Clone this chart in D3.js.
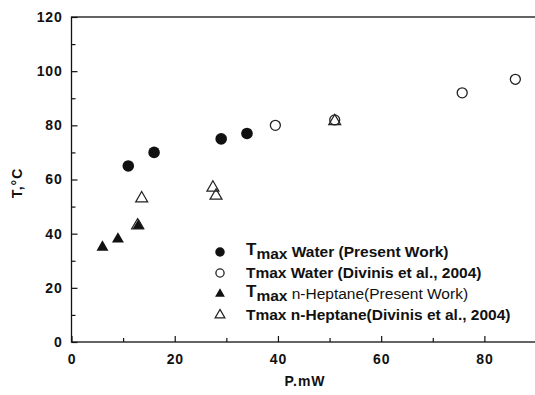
<!DOCTYPE html>
<html><head><meta charset="utf-8">
<script src="https://cdn.jsdelivr.net/npm/d3@7"></script>
<style>
html,body{margin:0;padding:0;background:#fff;}
text{font-family:"Liberation Sans",Arial,sans-serif;font-weight:bold;fill:#111;}
</style></head>
<body><svg id="c" width="535" height="395"></svg>
<script>
const waterPresent = [[11,65],[16,70],[29,75],[34,77]];
const waterDivinis = [[39.5,80],[51,82],[75.7,92],[86,97]];
const heptanePresent = [[6,35],[9,38],[13,43]];
const heptaneDivinis = [[13.6,53],[12.8,43],[27.4,57],[28,54],[51,81.5]];
const xTicks = [0,20,40,60,80];
const yTicks = [0,20,40,60,80,100,120];
const legendLabels = [
  {sub:true, rest:" Water (Present Work)", sym:"fc", w:"bold"},
  {sub:false, rest:" Water (Divinis et al., 2004)", sym:"oc", w:"bold"},
  {sub:true, rest:" n-Heptane(Present Work)", sym:"ft", w:"normal"},
  {sub:false, rest:" n-Heptane(Divinis et al., 2004)", sym:"ot", w:"bold"}
];

const svg = d3.select("#c");
const L=71.5, T=17, B=342, R=536;
const x = d3.scaleLinear().domain([0,90]).range([L,R]);
const y = d3.scaleLinear().domain([0,120]).range([B,T]);

svg.append("rect").attr("x",L).attr("y",T).attr("width",R-L).attr("height",B-T)
  .attr("fill","none").attr("stroke","#111").attr("stroke-width",1.3);

const xAx = svg.append("g").attr("transform",`translate(0,${B})`)
  .call(d3.axisBottom(x).tickValues(xTicks).tickSize(-6).tickPadding(12).tickFormat(d3.format("d")));
const xMinor = svg.append("g").attr("transform",`translate(0,${B})`)
  .call(d3.axisBottom(x).tickValues([10,30,50,70]).tickSize(-4).tickFormat(""));
const yAx = svg.append("g").attr("transform",`translate(${L},0)`)
  .call(d3.axisLeft(y).tickValues(yTicks).tickSize(-6).tickPadding(9).tickFormat(d3.format("d")));
const yMinor = svg.append("g").attr("transform",`translate(${L},0)`)
  .call(d3.axisLeft(y).tickValues([10,30,50,70,90,110]).tickSize(-4).tickFormat(""));
[xAx,xMinor,yAx,yMinor].forEach(g=>{
  g.select(".domain").remove();
  g.selectAll("line").attr("stroke","#111").attr("stroke-width",1.2);
  g.selectAll("text").style("font-size","14px").style("font-weight","bold")
   .style("font-family","Liberation Sans, Arial, sans-serif").attr("fill","#111")
   .style("letter-spacing","0.8px");
});

svg.append("text").attr("x",305).attr("y",386).attr("text-anchor","middle")
  .style("font-size","14px").style("letter-spacing","1px").text("P.mW");
svg.append("text").attr("transform","translate(22,183) rotate(-90)").attr("text-anchor","middle")
  .style("font-size","14px").style("letter-spacing","1px").text("T,°C");

function drawSym(g, kind, px, py, s){
  const tri = d3.symbol().type(d3.symbolTriangle).size(62*s*s);
  if(kind==="fc") g.append("circle").attr("cx",px).attr("cy",py).attr("r",5.8*s).attr("fill","#111");
  else if(kind==="oc") g.append("circle").attr("cx",px).attr("cy",py).attr("r",5*s).attr("fill","none").attr("stroke","#222").attr("stroke-width",1.3);
  else if(kind==="ft") g.append("path").attr("d",tri()).attr("transform",`translate(${px},${py})`).attr("fill","#111");
  else g.append("path").attr("d",tri()).attr("transform",`translate(${px},${py})`).attr("fill","none").attr("stroke","#222").attr("stroke-width",1.2);
}
const pts = svg.append("g");
waterPresent.forEach(d=>drawSym(pts,"fc",x(d[0]),y(d[1]),1));
waterDivinis.forEach(d=>drawSym(pts,"oc",x(d[0]),y(d[1]),1));
heptanePresent.forEach(d=>drawSym(pts,"ft",x(d[0]),y(d[1]),1));
heptaneDivinis.forEach(d=>drawSym(pts,"ot",x(d[0]),y(d[1]),1));

const lg = svg.append("g");
legendLabels.forEach((d,i)=>{
  const cy = 252 + i*21;
  drawSym(lg, d.sym, 220, cy, 0.82);
  const t = lg.append("text").attr("x",246).attr("y",cy+5).style("font-size","15.5px");
  if(d.sub){
    t.append("tspan").style("font-size","17px").attr("dy",-2).text("T");
    t.append("tspan").style("font-size","15.5px").attr("dy",4).text("max");
    t.append("tspan").attr("dy",-2).style("font-weight",d.w).text(d.rest);
  } else {
    t.append("tspan").text("Tmax");
    t.append("tspan").style("font-weight",d.w).text(d.rest);
  }
});
</script></body></html>
